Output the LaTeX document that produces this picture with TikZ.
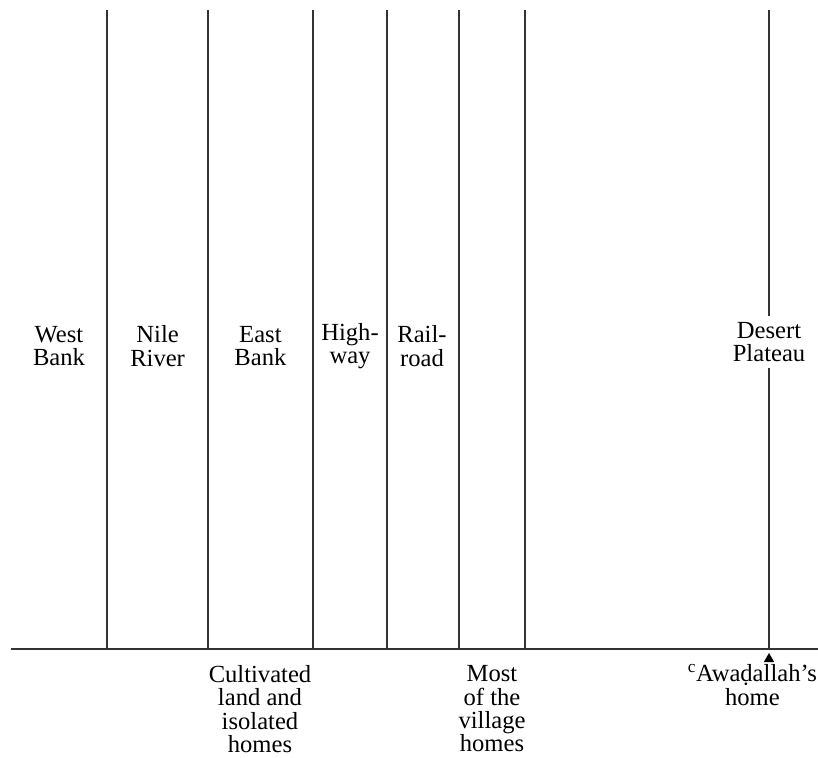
\documentclass[tikz,border=0pt]{standalone}
\usepackage{fontspec}
\setmainfont{Liberation Serif}
\usetikzlibrary{calc}

\begin{document}
\begin{tikzpicture}[
    zone/.style={align=center, inner sep=0pt, font=\fontsize{17.5}{16.6}\selectfont},
    gap/.style={zone, fill=white, inner ysep=4pt},
    border/.style={line width=0.9pt, black!80},
    ground/.style={line width=0.9pt, black!80}
]

\useasboundingbox (0,0) rectangle (20.45,18.925);

% Ground line and strip borders
\coordinate (g0) at (0.275,2.7);
\coordinate (g1) at (20.45,2.7);
\draw[ground] (g0) -- (g1);

\foreach \x/\n in {2.675/b1, 5.2/b2, 7.825/b3, 9.675/b4, 11.475/b5, 13.125/b6, 19.225/b7} {
    \coordinate (\n top) at (\x,18.675);
    \coordinate (\n bot) at (\x,2.7);
}
\foreach \n in {b1,b2,b3,b4,b5,b6} {
    \draw[border] (\n top) -- (\n bot);
}

% Strip labels
\node[zone] (west) at (1.475,10.275) {West\\Bank};
\node[zone] (nile) at (3.94,10.275) {Nile\\River};
\node[zone] (east) at (6.51,10.275) {East\\Bank};
\node[zone] (highway) at (8.75,10.275) {High-\\way};
\node[zone] (railroad) at (10.55,10.275) {Rail-\\road};

% Desert plateau sits on the last border
\node[gap] (desert) at (19.225,10.375) {Desert\\Plateau};
\draw[border] (b7top) -- (desert.north);
\draw[border] (desert.south) -- (b7bot);

% Labels below the ground line
\node[zone] (cultivated) at (6.5,1.2) {Cultivated\\land and\\isolated\\homes};
\node[zone] (village) at (12.3,1.2) {Most\\of the\\village\\homes};

% Marker for the home
\coordinate (tip) at (19.225,2.6);
\fill (tip) -- ++(-0.13,-0.225) -- ++(0.26,0) -- cycle;
\node[zone] (home) at (18.81,1.8) {\textsuperscript{c}Awaḍallah’s\\home};

\end{tikzpicture}
\end{document}
